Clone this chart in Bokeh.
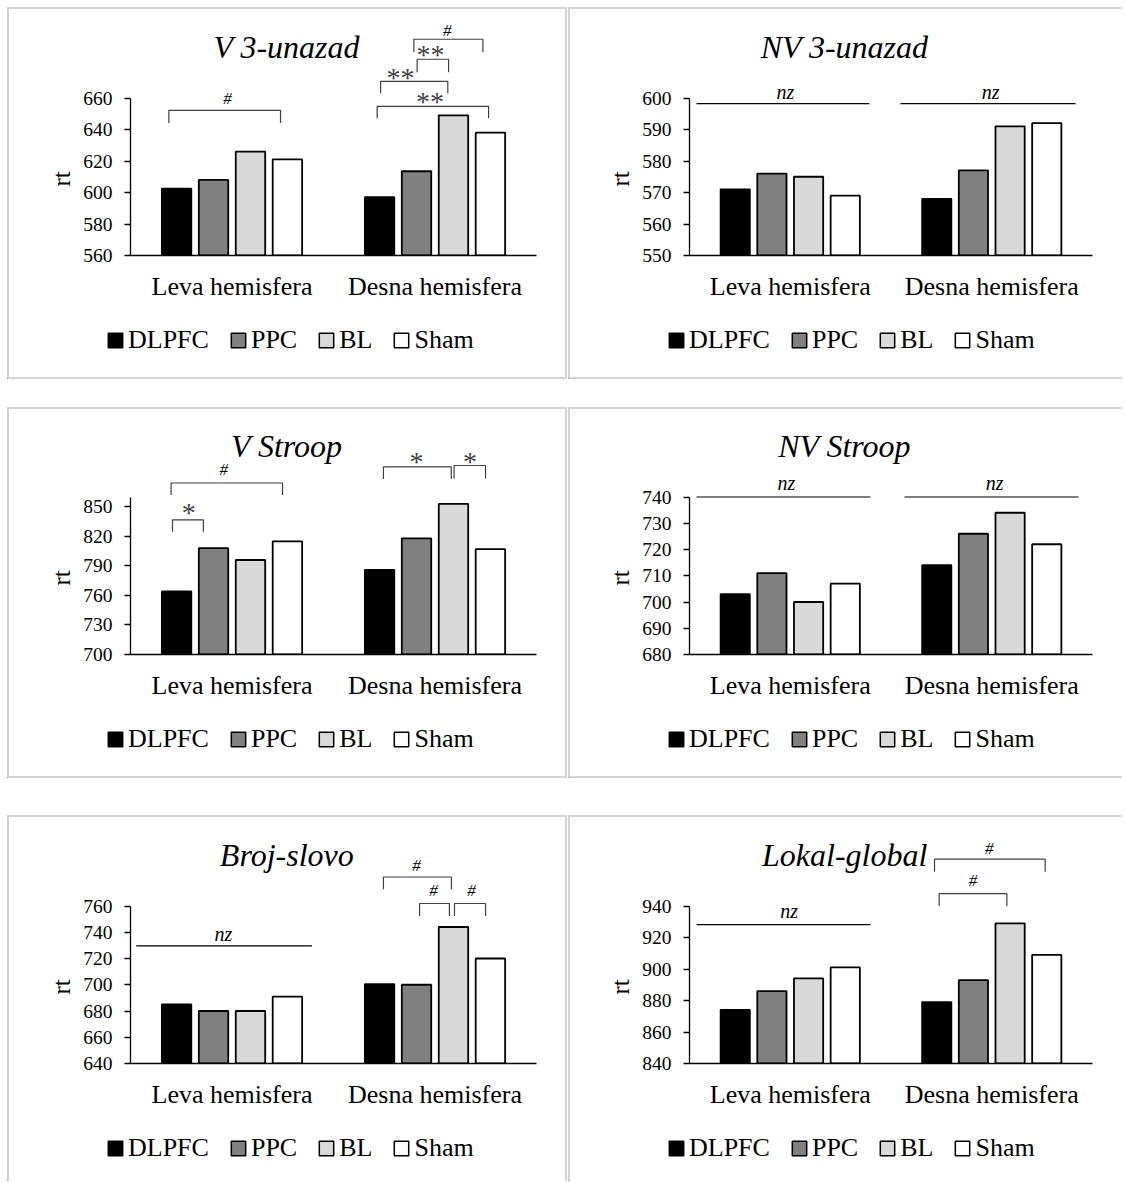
from bokeh.plotting import figure
from bokeh.models import (FactorRange, Range1d, FixedTicker, ColumnDataSource, Legend,
                          LegendItem, Title, Spacer)
from bokeh.layouts import row, column
from bokeh.transform import dodge
from bokeh.core.properties import value
from bokeh.embed import file_html
from bokeh.resources import INLINE

# ---------------- data ----------------
categories = ["Leva hemisfera", "Desna hemisfera"]
conditions = ["DLPFC", "PPC", "BL", "Sham"]
condition_colors = ["#000000", "#808080", "#d9d9d9", "#ffffff"]

titles = ["V 3-unazad", "NV 3-unazad", "V Stroop", "NV Stroop", "Broj-slovo", "Lokal-global"]

# values: DLPFC, PPC, BL, Sham
v3_leva = [602.5, 608, 626, 621]
v3_desna = [597, 613.5, 649, 638]
nv3_leva = [571, 576, 575, 569]
nv3_desna = [568, 577, 591, 592]
vs_leva = [764, 808, 796, 815]
vs_desna = [786, 818, 853, 807]
nvs_leva = [703, 711, 700, 707]
nvs_desna = [714, 726, 734, 722]
bs_leva = [685, 680, 680, 691]
bs_desna = [700.5, 700, 744, 720]
lg_leva = [874, 886, 894, 901]
lg_desna = [879, 893, 929, 909]

# y axes: (min, max, major step)
v3_axis = (560, 660, 20)
nv3_axis = (550, 600, 10)
vs_axis = (700, 860, 30)
nvs_axis = (680, 740, 10)
bs_axis = (640, 760, 20)
lg_axis = (840, 940, 20)

# significance brackets: (x_start, x_end, y_top, y_leg, label, label_x, label_y)
# x in category units (0..2), y in rt units
v3_brackets = [
    (0.189, 0.739, 652.2, 644.1, "#", 0.478, 659.6),
    (1.396, 1.736, 697.3, 689.0, "#", 1.560, 703.0),
    (1.412, 1.567, 684.6, 676.3, "**", 1.478, 690.3),
    (1.232, 1.563, 670.6, 663.0, "**", 1.330, 675.7),
    (1.215, 1.764, 654.7, 647.1, "**", 1.475, 660.3),
]
vs_brackets = [
    (0.207, 0.359, 836.8, 824.6, "*", 0.287, 848.0),
    (0.200, 0.749, 874.2, 862.0, "#", 0.459, 887.7),
    (1.246, 1.580, 890.7, 878.2, "*", 1.409, 900.2),
    (1.594, 1.749, 892.0, 878.8, "*", 1.673, 900.2),
]
bs_brackets = [
    (1.246, 1.581, 782.1, 772.7, "#", 1.409, 790.9),
    (1.424, 1.571, 761.9, 752.3, "#", 1.493, 771.6),
    (1.596, 1.749, 761.9, 752.3, "#", 1.680, 771.6),
]
lg_brackets = [
    (1.216, 1.765, 969.7, 961.8, "#", 1.487, 976.6),
    (1.239, 1.575, 947.9, 939.8, "#", 1.407, 956.0),
]
# "nz" lines: (x_start, x_end, y, label_x, label_y)
nv3_nz = [(0.035, 0.893, 598.2, 0.476, 601.4), (1.047, 1.916, 598.2, 1.494, 601.4)]
nvs_nz = [(0.035, 0.898, 740.0, 0.481, 744.4), (1.067, 1.931, 740.0, 1.514, 744.4)]
bs_nz = [(0.028, 0.894, 729.6, 0.457, 736.8)]
lg_nz = [(0.035, 0.898, 928.2, 0.494, 935.5)]

# ---------------- layout / style constants ----------------
FONT = "Liberation Serif"
AXIS_PX = 157.5
BAR_OFFSETS = [-0.273, -0.091, 0.091, 0.273]
BAR_W = 0.145
LABEL_SIZE = {"*": 28, "**": 28, "#": 17, "nz": 20}
LABEL_SHIFT = {"*": -0.14, "**": -0.14, "#": 0.0, "nz": 0.10}
BORDER = "#d4d4d4"


def shadow(sides):
    parts = []
    if "l" in sides:
        parts.append(f"inset 2px 0 0 0 {BORDER}")
    if "r" in sides:
        parts.append(f"inset -2px 0 0 0 {BORDER}")
    if "t" in sides:
        parts.append(f"inset 0 2px 0 0 {BORDER}")
    if "b" in sides:
        parts.append(f"inset 0 -2px 0 0 {BORDER}")
    return ", ".join(parts) if parts else "none"


def build(title, leva, desna, axis, brackets, nz, side, height, frame_bottom, sides):
    ymin, ymax, step = axis
    ppu = AXIS_PX / (ymax - ymin)
    yend = ymin + (frame_bottom - 2) / ppu
    if side == "left":
        W, mbl, mbr = 560, 123, 31
    else:
        W, mbl, mbr = 554, 121, 30
    main_h = frame_bottom + 60
    leg_h = height - main_h

    p = figure(width=W, height=main_h, x_range=FactorRange(factors=categories),
               y_range=Range1d(ymin, yend), output_backend="svg", toolbar_location=None,
               title=None, min_border_left=mbl, min_border_right=mbr, min_border_top=2,
               min_border_bottom=main_h - frame_bottom,
               styles={"box-shadow": shadow(sides.replace("b", ""))})
    p.outline_line_color = None
    p.grid.visible = False
    p.background_fill_color = None
    p.border_fill_color = None

    src = ColumnDataSource(dict(cat=categories,
                                **{c: [leva[i], desna[i]] for i, c in enumerate(conditions)}))
    for i, c in enumerate(conditions):
        p.vbar(x=dodge("cat", BAR_OFFSETS[i], range=p.x_range), top=c, bottom=ymin,
               width=BAR_W, source=src, fill_color=condition_colors[i],
               line_color="black", line_width=1.8)

    # axes
    ya = p.yaxis[0]
    ya.ticker = FixedTicker(ticks=list(range(ymin, ymax + 1, step)))
    ya.bounds = (ymin, ymax)
    ya.major_label_text_font = FONT
    ya.major_label_text_font_size = "19.5px"
    ya.major_label_text_color = "black"
    ya.major_tick_out = 6
    ya.major_tick_in = 0
    ya.minor_tick_line_color = None
    ya.axis_line_width = 1.3
    ya.major_tick_line_width = 1.3
    ya.major_label_standoff = 12

    xa = p.xaxis[0]
    xa.major_label_text_font = FONT
    xa.major_label_text_font_size = "26px"
    xa.major_label_text_color = "black"
    xa.major_tick_line_color = None
    xa.major_tick_out = 0
    xa.major_tick_in = 0
    xa.major_label_standoff = 16
    xa.axis_line_width = 1.5

    # y-axis label "rt" as a side title
    p.add_layout(Title(text="rt", align="left", offset=69, standoff=12, text_font=FONT,
                       text_font_size="25px", text_font_style="normal",
                       text_color="black"), "left")

    # chart title (inside frame, above the bars)
    p.text(x=[0.77], y=[ymin + 209 / ppu], text=[title], text_font=value(FONT),
           text_font_style="italic", text_font_size="32px", text_align="center",
           text_baseline="middle", text_color="black")

    # brackets
    if brackets:
        xs = [[b[0], b[0], b[1], b[1]] for b in brackets]
        ys = [[b[3], b[2], b[2], b[3]] for b in brackets]
        p.multi_line(xs, ys, line_color="#404040", line_width=1.2)
        for b in brackets:
            lab = b[4]
            fs = LABEL_SIZE[lab]
            yb = b[6] + LABEL_SHIFT[lab] * fs / ppu
            p.text(x=[b[5]], y=[yb], text=[lab], text_font=value(FONT),
                   text_font_style="italic" if lab == "#" else "normal",
                   text_font_size=f"{fs}px", text_align="center", text_baseline="middle",
                   text_color="black" if lab == "#" else "#404040")
    if nz:
        p.multi_line([[n[0], n[1]] for n in nz], [[n[2], n[2]] for n in nz],
                     line_color="black", line_width=1.1)
        fs = LABEL_SIZE["nz"]
        p.text(x=[n[3] for n in nz], y=[n[4] + LABEL_SHIFT["nz"] * fs / ppu for n in nz],
               text=["nz"] * len(nz), text_font=value(FONT), text_font_style="italic",
               text_font_size=f"{fs}px", text_align="center", text_baseline="middle",
               text_color="black")

    # legend strip (own small figure, legend inside its frame)
    lf = figure(width=W, height=leg_h, x_range=Range1d(0, 1), y_range=Range1d(0, 1),
                x_axis_type=None, y_axis_type=None, output_backend="svg",
                toolbar_location=None, title=None, min_border=0,
                styles={"box-shadow": shadow(sides.replace("t", ""))})
    lf.outline_line_color = None
    lf.background_fill_color = None
    lf.border_fill_color = None
    items = []
    for i, c in enumerate(conditions):
        # legend swatch carriers, placed outside the visible range
        r = lf.vbar(x=[-5], top=[-5], bottom=[-6], width=0.1, fill_color=condition_colors[i],
                    line_color="black", line_width=1.5)
        items.append(LegendItem(label=c, renderers=[r]))
    leg = Legend(items=items, orientation="horizontal", location=(99, leg_h - 40),
                 glyph_width=18, glyph_height=18, label_standoff=4, spacing=20,
                 padding=0, margin=0, border_line_color=None, background_fill_alpha=0,
                 label_text_font=FONT, label_text_font_size="26px", label_text_color="black")
    lf.add_layout(leg)
    return p, lf


pA, lA = build(titles[0], v3_leva, v3_desna, v3_axis, v3_brackets, [], "left", 372, 248, "lrtb")
pB, lB = build(titles[1], nv3_leva, nv3_desna, nv3_axis, [], nv3_nz, "right", 372, 248, "ltb")
pC, lC = build(titles[2], vs_leva, vs_desna, vs_axis, vs_brackets, [], "left", 371, 247, "lrtb")
pD, lD = build(titles[3], nvs_leva, nvs_desna, nvs_axis, [], nvs_nz, "right", 371, 247, "ltb")
pE, lE = build(titles[4], bs_leva, bs_desna, bs_axis, bs_brackets, bs_nz, "left", 366, 248, "lrt")
pF, lF = build(titles[5], lg_leva, lg_desna, lg_axis, lg_brackets, lg_nz, "right", 366, 248, "lt")

layout = column(Spacer(height=7),
                row(Spacer(width=7), pA, Spacer(width=1), pB),
                row(Spacer(width=7), lA, Spacer(width=1), lB),
                Spacer(height=28),
                row(Spacer(width=7), pC, Spacer(width=1), pD),
                row(Spacer(width=7), lC, Spacer(width=1), lD),
                Spacer(height=37),
                row(Spacer(width=7), pE, Spacer(width=1), pF),
                row(Spacer(width=7), lE, Spacer(width=1), lF))

open("out.html", "w").write(file_html(layout, INLINE))
